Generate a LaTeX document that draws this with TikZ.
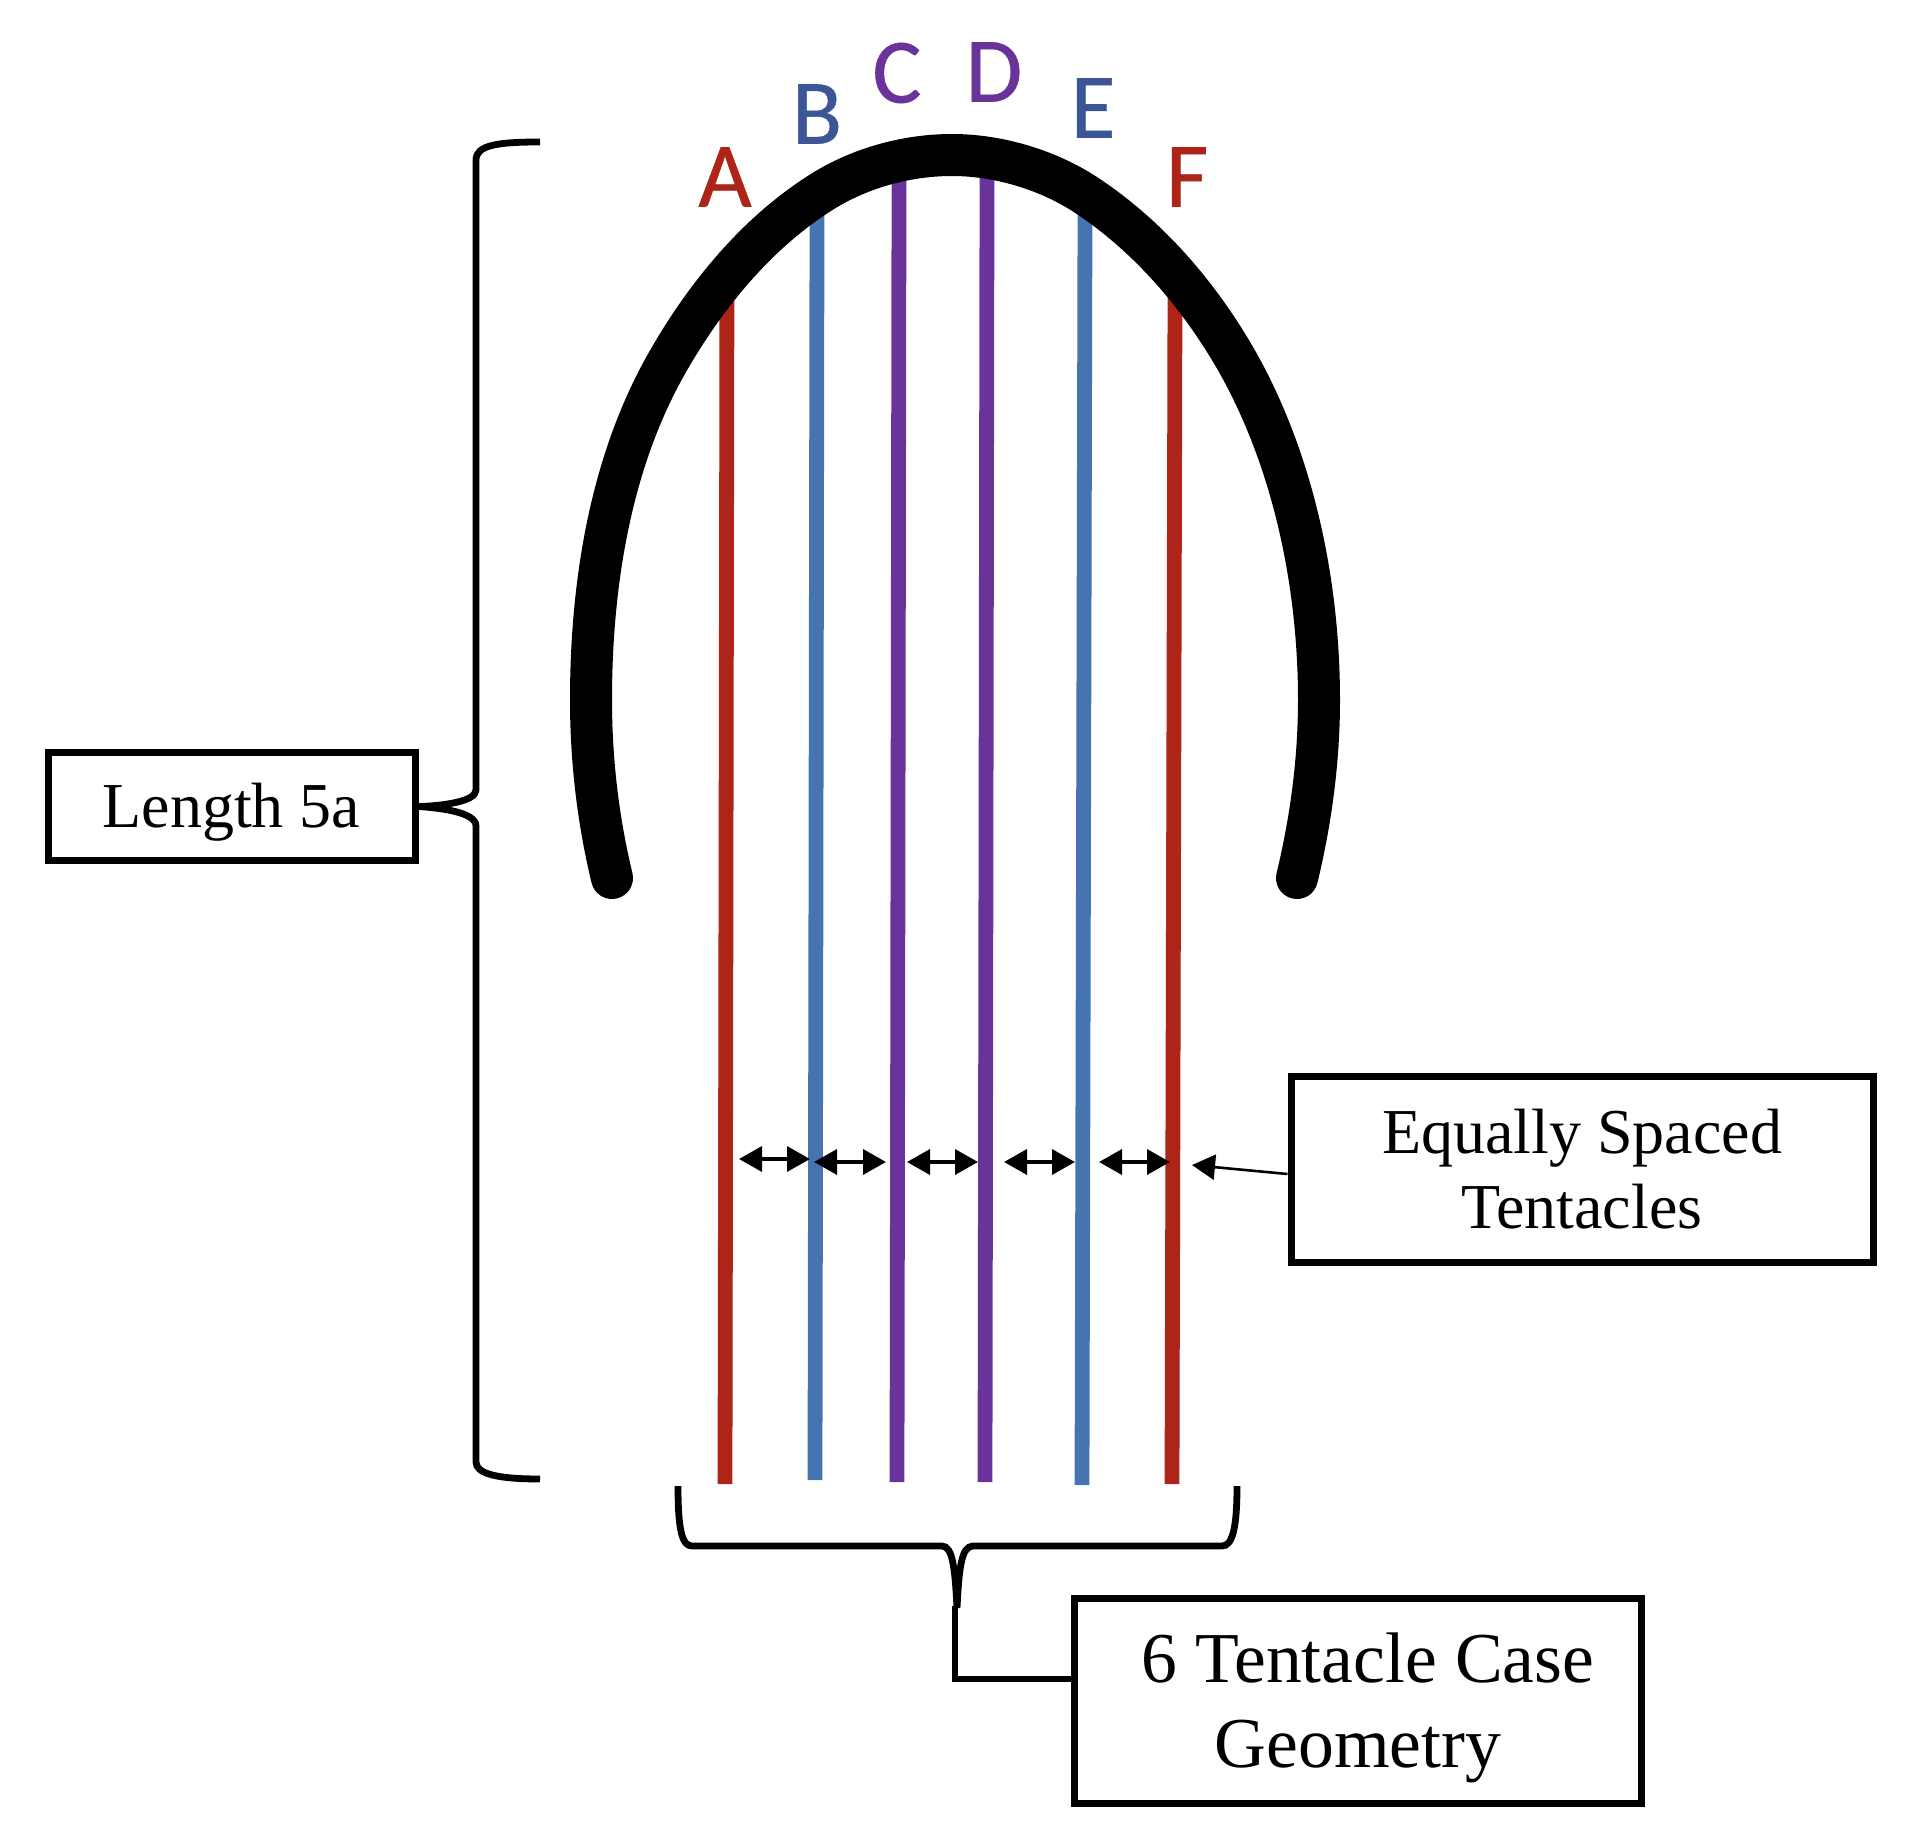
\documentclass[tikz,border=0pt]{standalone}
\usepackage{fontspec}
\setmainfont{Liberation Serif}
\newfontfamily\lab[FakeBold=0.6]{Carlito}
\usetikzlibrary{arrows.meta}
\definecolor{cred}{HTML}{AD2418}
\definecolor{cblue}{HTML}{4674B1}
\definecolor{cpurp}{HTML}{6A3399}
\definecolor{lblue}{HTML}{3B5597}
\newcommand{\lowertext}[2]{\raisebox{-#1}[\height][\depth]{#2}}
\tikzset{
  tent/.style={line width=7.4pt},
  box/.style={draw=black,line width=3.5pt,fill=white,align=center,inner sep=0pt},
  brc/.style={draw=black,line width=3.4pt},
  lett/.style={font=\lab\fontsize{46}{46}\selectfont,inner sep=0pt},
  dbl/.style={line width=1.8pt,{Triangle[length=11.5pt,width=12.5pt]}-{Triangle[length=11.5pt,width=12.5pt]}},
  sgl/.style={line width=1.3pt,-{Triangle[length=11.5pt,width=12.5pt]}}
}
\begin{document}
\begin{tikzpicture}[x=0.5pt,y=-0.5pt]
\useasboundingbox (0,0) rectangle (1913,1830);
% tentacles
\coordinate (At) at (727,252); \coordinate (Ab) at (725,1484);
\coordinate (Bt) at (817,213); \coordinate (Bb) at (815,1480);
\coordinate (Ct) at (899,180); \coordinate (Cb) at (897,1482);
\coordinate (Dt) at (987,177); \coordinate (Db) at (985,1482);
\coordinate (Et) at (1085,210); \coordinate (Eb) at (1082,1485);
\coordinate (Ft) at (1175,290); \coordinate (Fb) at (1172,1484);
\draw[tent,cred] (At) -- (Ab);
\draw[tent,cblue] (Bt) -- (Bb);
\draw[tent,cpurp] (Ct) -- (Cb);
\draw[tent,cpurp] (Dt) -- (Db);
\draw[tent,cblue] (Et) -- (Eb);
\draw[tent,cred] (Ft) -- (Fb);
% arc
\draw[line width=21pt,line cap=round,line join=round,black]
  (612,878) .. controls (598,820) and (591,760) .. (591,700)
  .. controls (591,585) and (610,463) .. (667,363)
  .. controls (704,298) and (754,236) .. (817,195)
  .. controls (856,169) and (905,155) .. (952,155)
  .. controls (997,155) and (1045,169) .. (1083,193)
  .. controls (1148,235) and (1200,296) .. (1238,363)
  .. controls (1294,463) and (1319,585) .. (1319,700)
  .. controls (1319,760) and (1311,820) .. (1297,878);
% labels
\node[lett,text=cred]  (la) at (725,177) {A};
\node[lett,text=lblue] (lb) at (817,114) {B};
\node[lett,text=cpurp] (lc) at (897,73) {C};
\node[lett,text=cpurp] (ld) at (994,72) {D};
\node[lett,text=lblue] (le) at (1093,108) {E};
\node[lett,text=cred]  (lf) at (1187,177) {F};
% boxes
\node[box,minimum width=183.5pt,minimum height=54pt,font=\fontsize{32}{38}\selectfont] (len) at (231.5,806.5) {\lowertext{3pt}{Length 5a}};
\node[box,minimum width=291pt,minimum height=93pt,font=\fontsize{32}{37.8}\selectfont] (eq) at (1582,1169) {Equally Spaced\\Tentacles};
\node[box,minimum width=283.5pt,minimum height=102.5pt,font=\fontsize{35.8}{42.7}\selectfont] (six) at (1358,1701) {\hspace*{10pt}\lowertext{3.4pt}{6 Tentacle Case}\\\lowertext{3.4pt}{Geometry}};
% left brace
\coordinate (ltop) at (540,142);
\coordinate (lbot) at (540,1479);
\coordinate (ltip) at (len.east);
\draw[brc] (ltop) .. controls (498,142) and (476,145) .. (476,160)
  -- (476,790) .. controls (476,802) and (440,806) .. (ltip)
  .. controls (440,808) and (476,812) .. (476,826)
  -- (476,1462) .. controls (476,1474) and (498,1479) .. (lbot);
% bottom brace
\coordinate (bl) at (678,1486);
\coordinate (br) at (1237,1486);
\coordinate (btip) at (957,1608);
\draw[brc] (bl) .. controls (678,1530) and (682,1546) .. (692,1546)
  -- (942,1546) .. controls (953,1546) and (955,1570) .. (btip)
  .. controls (959,1570) and (961,1546) .. (973,1546)
  -- (1222,1546) .. controls (1232,1546) and (1237,1530) .. (br);
\coordinate (bcor) at (955,1679);
\draw[brc] (955,1606) -- (bcor) -- (bcor -| six.west);
% spacing arrows
\coordinate (a1) at (739,1159); \coordinate (a2) at (810,1159);
\coordinate (b1) at (814,1162); \coordinate (b2) at (886,1162);
\coordinate (c1) at (907,1162); \coordinate (c2) at (978,1162);
\coordinate (d1) at (1004,1162); \coordinate (d2) at (1075,1162);
\coordinate (e1) at (1099,1162); \coordinate (e2) at (1170,1162);
\coordinate (tipf) at (1192,1165);
\draw[dbl] (a1) -- (a2);
\draw[dbl] (b1) -- (b2);
\draw[dbl] (c1) -- (c2);
\draw[dbl] (d1) -- (d2);
\draw[dbl] (e1) -- (e2);
\draw[sgl] (eq.west |- 0,1174) -- (tipf);
\end{tikzpicture}
\end{document}
